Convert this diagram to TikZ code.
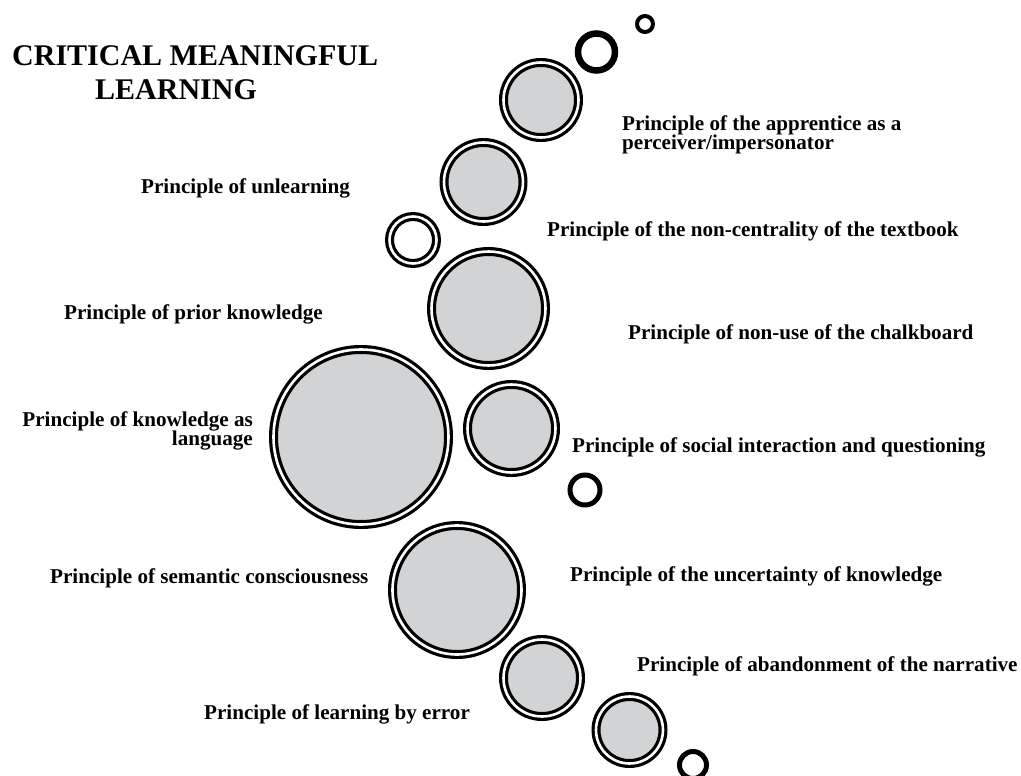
\documentclass[tikz,border=0pt]{standalone}
\usepackage{fontspec}
\setmainfont{Liberation Serif}
\definecolor{bubblegray}{RGB}{209,211,212}
\begin{document}
\begin{tikzpicture}[x=1pt,y=-1pt,
  bubble/.style={circle,draw=black,line width=3.2pt,double=white,double distance=2.6pt,fill=bubblegray,inner sep=0pt,minimum size={2*(#1-4.5)*1pt}},
  ring/.style={circle,draw=black,line width=3.2pt,double=white,double distance=2.6pt,fill=white,inner sep=0pt,minimum size={2*(#1-4.5)*1pt}},
  hollow/.style={circle,draw=black,line width=5pt,inner sep=0pt,minimum size={2*(#1-2.5)*1pt}},
  lbl/.style={font=\fontsize{21.1}{19.5}\selectfont\bfseries,inner sep=0pt},
  ttl/.style={font=\fontsize{30}{34}\selectfont\bfseries,inner sep=0pt,align=left}]
\useasboundingbox (0,0) rectangle (1021,776);
% bubbles
\node[circle,draw=black,line width=4pt,inner sep=0pt,minimum size=16pt] (h1) at (645,24) {};
\node[circle,draw=black,line width=6.5pt,inner sep=0pt,minimum size=37pt] (h2) at (596.5,52) {};
\node[bubble=42] (c3) at (541,100) {};
\node[bubble=44] (c4) at (483.5,182) {};
\node[ring=28] (c5) at (413,240) {};
\node[bubble=61.5] (c6) at (488.5,308.5) {};
\node[bubble=92] (c7) at (361,437) {};
\node[bubble=48.5] (c8) at (511.5,428.5) {};
\node[hollow=17.5] (h9) at (585,490) {};
\node[bubble=69] (c10) at (457,590) {};
\node[bubble=43] (c11) at (542,678) {};
\node[bubble=38] (c12) at (629.5,730) {};
\node[hollow=16] (h13) at (693,765) {};
% title
\node[ttl,anchor=north west] (title) at (12,45) {CRITICAL MEANINGFUL\\\hspace*{83pt}LEARNING};
% labels
\node[lbl,anchor=west,align=left] (lapp) at (622,135) {Principle of the apprentice as a\\perceiver/impersonator};
\node[lbl,anchor=west] (lunl) at (141,188) {Principle of unlearning};
\node[lbl,anchor=west] (ltxt) at (547,231) {Principle of the non-centrality of the textbook};
\node[lbl,anchor=west] (lpri) at (64,314) {Principle of prior knowledge};
\node[lbl,anchor=west] (lcha) at (628,334) {Principle of non-use of the chalkboard};
\node[lbl,anchor=east,align=right] (llan) at (253,431) {Principle of knowledge as\\language};
\node[lbl,anchor=west] (lsoc) at (572,447) {Principle of social interaction and questioning};
\node[lbl,anchor=west] (lsem) at (50,578) {Principle of semantic consciousness};
\node[lbl,anchor=west] (lunc) at (570,576) {Principle of the uncertainty of knowledge};
\node[lbl,anchor=west] (laba) at (637,666) {Principle of abandonment of the narrative};
\node[lbl,anchor=west] (lerr) at (204,714) {Principle of learning by error};
\end{tikzpicture}
\end{document}
